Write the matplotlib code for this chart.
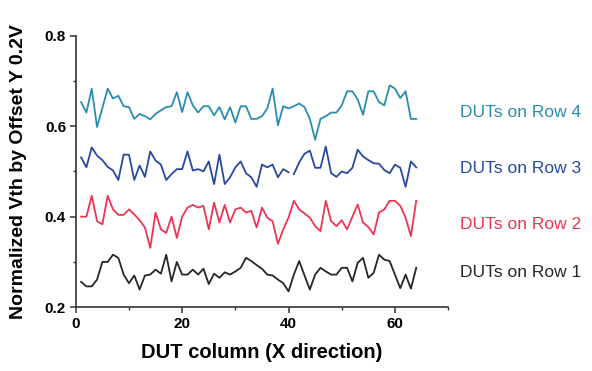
import matplotlib
matplotlib.use("Agg")
import matplotlib.pyplot as plt
from matplotlib.ticker import MultipleLocator

plt.rcParams['font.family'] = ['Liberation Sans', 'DejaVu Sans']

# column index of each DUT
cols = list(range(1, 65))

row4 = [0.653, 0.630, 0.683, 0.598, 0.640, 0.683, 0.661, 0.667, 0.644, 0.642,
        0.616, 0.627, 0.622, 0.615, 0.627, 0.635, 0.642, 0.644, 0.675, 0.631,
        0.675, 0.646, 0.630, 0.644, 0.644, 0.624, 0.642, 0.615, 0.642, 0.608,
        0.644, 0.644, 0.616, 0.616, 0.622, 0.639, 0.683, 0.602, 0.644, 0.639,
        0.644, 0.650, 0.642, 0.616, 0.570, 0.616, 0.622, 0.630, 0.630, 0.646,
        0.677, 0.677, 0.659, 0.625, 0.677, 0.677, 0.653, 0.646, 0.690, 0.683,
        0.662, 0.677, 0.616, 0.616]

row3 = [0.531, 0.509, 0.553, 0.535, 0.525, 0.510, 0.502, 0.481, 0.537, 0.537,
        0.481, 0.513, 0.488, 0.544, 0.524, 0.515, 0.481, 0.494, 0.505, 0.505,
        0.544, 0.502, 0.505, 0.500, 0.522, 0.472, 0.537, 0.472, 0.487, 0.509,
        0.522, 0.496, 0.487, 0.466, 0.515, 0.509, 0.515, 0.487, 0.505, 0.498,
        0.494, 0.520, 0.539, 0.546, 0.508, 0.508, 0.555, 0.496, 0.488, 0.500,
        0.496, 0.508, 0.548, 0.533, 0.525, 0.518, 0.517, 0.503, 0.496, 0.515,
        0.508, 0.466, 0.522, 0.509]

row2 = [0.400, 0.400, 0.446, 0.390, 0.383, 0.446, 0.416, 0.404, 0.404, 0.416,
        0.405, 0.392, 0.376, 0.331, 0.409, 0.372, 0.364, 0.400, 0.353, 0.400,
        0.420, 0.426, 0.420, 0.424, 0.372, 0.431, 0.387, 0.426, 0.387, 0.416,
        0.420, 0.409, 0.413, 0.376, 0.420, 0.398, 0.390, 0.340, 0.372, 0.398,
        0.435, 0.416, 0.407, 0.398, 0.379, 0.368, 0.435, 0.390, 0.379, 0.392,
        0.372, 0.400, 0.427, 0.387, 0.377, 0.361, 0.409, 0.416, 0.435, 0.435,
        0.424, 0.398, 0.357, 0.435]

row1 = [0.256, 0.246, 0.246, 0.261, 0.300, 0.300, 0.316, 0.309, 0.272, 0.253,
        0.270, 0.239, 0.270, 0.272, 0.283, 0.274, 0.316, 0.257, 0.300, 0.272,
        0.272, 0.283, 0.272, 0.285, 0.251, 0.274, 0.265, 0.277, 0.272, 0.279,
        0.287, 0.309, 0.302, 0.293, 0.285, 0.272, 0.270, 0.261, 0.253, 0.235,
        0.272, 0.302, 0.270, 0.239, 0.272, 0.287, 0.279, 0.272, 0.272, 0.287,
        0.287, 0.257, 0.298, 0.309, 0.265, 0.276, 0.316, 0.305, 0.302, 0.272,
        0.242, 0.272, 0.241, 0.287]

labels = ['DUTs on Row 4', 'DUTs on Row 3', 'DUTs on Row 2', 'DUTs on Row 1']
label_y = [0.630, 0.506, 0.382, 0.277]
colors = ['#2a8db0', '#2749a3', '#ec3552', '#262626']

fig = plt.figure(figsize=(5.92, 3.71), dpi=100)
ax = fig.add_axes([0.128, 0.172, 0.629, 0.732])

ax.plot(cols, row4, color=colors[0], lw=1.3)
# row 3 has a break between column 40 and 41
ax.plot(cols[:40], row3[:40], color=colors[1], lw=1.3)
ax.plot(cols[40:], row3[40:], color=colors[1], lw=1.3)
ax.plot(cols, row2, color=colors[2], lw=1.3)
ax.plot(cols, row1, color=colors[3], lw=1.3)

for lab, yy, c in zip(labels, label_y, colors):
    ax.text(72.3, yy, lab, color=c, fontsize=12.5, va='center', ha='left', clip_on=False)

ax.set_xlim(0, 70)
ax.set_ylim(0.2, 0.8)
ax.xaxis.set_minor_locator(MultipleLocator(10))
ax.yaxis.set_minor_locator(MultipleLocator(0.1))
ax.set_xticks([0, 20, 40, 60])
ax.set_xticklabels(['0', '20', '40', '60'])
ax.set_yticks([0.2, 0.4, 0.6, 0.8])
ax.set_yticklabels(['0.2', '0.4', '0.6', '0.8'])

for s in ['top', 'right']:
    ax.spines[s].set_visible(False)
for s in ['left', 'bottom']:
    ax.spines[s].set_linewidth(1.2)
    ax.spines[s].set_color('#333333')

ax.tick_params(which='major', direction='out', length=4, width=1.1, color='#333333',
               labelsize=11, pad=3)
ax.tick_params(which='minor', direction='out', length=2.5, width=1.0, color='#333333')
for t in ax.get_xticklabels() + ax.get_yticklabels():
    t.set_fontweight('bold')

ax.set_xlabel('DUT column (X direction)', fontsize=14.5, fontweight='bold', labelpad=9)
ax.set_ylabel('Normalized Vth by Offset Y 0.2V', fontsize=14, fontweight='bold', labelpad=13)

fig.savefig('out.png', dpi=100)
